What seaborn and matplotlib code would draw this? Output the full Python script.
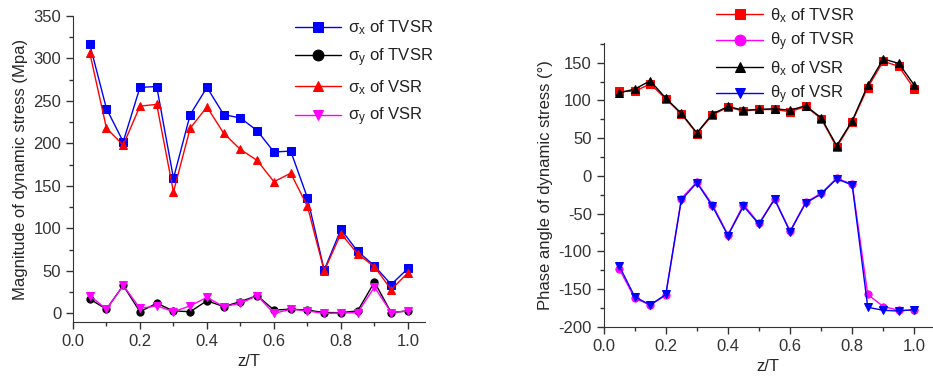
import numpy as np
import pandas as pd
import matplotlib
matplotlib.use("Agg")
import matplotlib.pyplot as plt
from matplotlib.ticker import MultipleLocator
import seaborn as sns

z = [0.05, 0.10, 0.15, 0.20, 0.25, 0.30, 0.35, 0.40, 0.45, 0.50,
     0.55, 0.60, 0.65, 0.70, 0.75, 0.80, 0.85, 0.90, 0.95, 1.00]

sx_tvsr = [317, 241, 202, 266, 267, 159, 234, 266, 234, 230,
           215, 190, 191, 136, 51, 99, 73, 56, 34, 53]
sy_tvsr = [17, 5, 33, 2, 12, 3, 2, 15, 8, 14,
           21, 4, 5, 4, 1, 1, 3, 37, 1, 3]
sx_vsr = [307, 218, 198, 244, 246, 143, 218, 243, 212, 193,
          180, 155, 165, 126, 50, 94, 70, 55, 28, 48]
sy_vsr = [21, 5, 33, 6, 9, 2, 9, 19, 8, 12,
          21, 0, 5, 3, 0, 0.5, 1, 31, 1, 3]

tx_tvsr = [112, 112, 122, 102, 82, 56, 81, 91, 86, 88,
           88, 85, 92, 76, 38, 72, 117, 152, 145, 115]
ty_tvsr = [-123, -162, -171, -158, -30, -8, -38, -78, -38, -63,
           -30, -73, -35, -23, -3, -11, -157, -173, -178, -178]
tx_vsr = [110, 115, 126, 103, 83, 57, 82, 92, 87, 88,
          89, 87, 93, 77, 40, 73, 120, 155, 149, 120]
ty_vsr = [-119, -160, -171, -157, -32, -9, -40, -79, -40, -64,
          -31, -74, -36, -24, -4, -12, -174, -178, -179, -177]

left_labels = ["σ$_\\mathrm{x}$ of TVSR", "σ$_\\mathrm{y}$ of TVSR",
               "σ$_\\mathrm{x}$ of VSR", "σ$_\\mathrm{y}$ of VSR"]
right_labels = ["θ$_\\mathrm{x}$ of TVSR", "θ$_\\mathrm{y}$ of TVSR",
                "θ$_\\mathrm{x}$ of VSR", "θ$_\\mathrm{y}$ of VSR"]

sns.set_style("ticks")
plt.rcParams['font.family'] = ['Liberation Sans', 'DejaVu Sans']
plt.rcParams['mathtext.fontset'] = 'custom'
plt.rcParams['mathtext.rm'] = 'Liberation Sans'
plt.rcParams['mathtext.it'] = 'Liberation Sans:italic'
plt.rcParams['axes.unicode_minus'] = False
plt.rcParams['axes.edgecolor'] = '#333333'
plt.rcParams['xtick.color'] = '#333333'
plt.rcParams['ytick.color'] = '#333333'
plt.rcParams['text.color'] = '#222222'

fig = plt.figure(figsize=(9.33, 3.81), dpi=100)
ax1 = fig.add_axes([0.0782, 0.155, 0.377, 0.803])
ax2 = fig.add_axes([0.647, 0.142, 0.353, 0.745])

def draw(ax, series, labels, styles):
    for vals, lab, (c, m) in zip(series, labels, styles):
        df = pd.DataFrame({"z": z, "v": vals})
        sns.lineplot(data=df, x="z", y="v", ax=ax, color=c, marker=m,
                     markersize=5.2, markeredgecolor=c, markerfacecolor=c,
                     linewidth=1.0, label=lab, legend=False)

draw(ax1, [sx_tvsr, sy_tvsr, sx_vsr, sy_vsr], left_labels,
     [("blue", "s"), ("black", "o"), ("red", "^"), ("magenta", "v")])
draw(ax2, [tx_tvsr, ty_tvsr, tx_vsr, ty_vsr], right_labels,
     [("red", "s"), ("magenta", "o"), ("black", "^"), ("blue", "v")])

for ax in (ax1, ax2):
    sns.despine(ax=ax)
    ax.set_xlabel("z/T", fontsize=12)
    ax.xaxis.set_major_locator(MultipleLocator(0.2))
    ax.xaxis.set_minor_locator(MultipleLocator(0.1))
    ax.tick_params(which='major', direction='out', length=5, width=1, labelsize=12)
    ax.tick_params(which='minor', direction='out', length=3, width=1)
    ax.set_xticks([0.0, 0.2, 0.4, 0.6, 0.8, 1.0])
    ax.set_xticklabels(["0.0", "0.2", "0.4", "0.6", "0.8", "1.0"])

ax1.set_xlim(0, 1.05)
ax1.set_ylim(-10, 350)
ax1.yaxis.set_major_locator(MultipleLocator(50))
ax1.yaxis.set_minor_locator(MultipleLocator(25))
ax1.set_ylabel("Magnitude of dynamic stress (Mpa)", fontsize=12)

ax2.set_xlim(0, 1.06)
ax2.set_ylim(-200, 176)
ax2.yaxis.set_major_locator(MultipleLocator(50))
ax2.yaxis.set_minor_locator(MultipleLocator(25))
ax2.set_ylabel("Phase angle of dynamic stress (°)", fontsize=12)

h1, l1 = ax1.get_legend_handles_labels()
ax1.legend(h1, l1, loc='upper left', bbox_to_anchor=(0.305, 0.978),
           bbox_transform=fig.transFigure, frameon=False, fontsize=12,
           handlelength=2.8, labelspacing=0.55, handletextpad=0.4,
           borderaxespad=0.2, markerscale=1.5)
h2, l2 = ax2.get_legend_handles_labels()
ax2.legend(h2, l2, loc='upper left', bbox_to_anchor=(0.757, 1.01),
           bbox_transform=fig.transFigure, frameon=False, fontsize=12,
           handlelength=2.8, labelspacing=0.35, handletextpad=0.4,
           borderaxespad=0.2, markerscale=1.5)

fig.savefig("out.png", dpi=100)
